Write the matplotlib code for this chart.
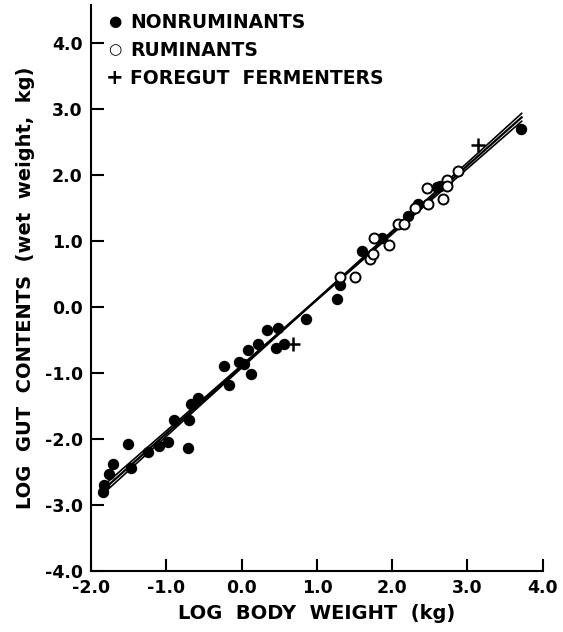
import matplotlib
matplotlib.use('Agg')
import matplotlib.pyplot as plt

# nonruminants (filled)
non_x = [-1.84, -1.83, -1.77, -1.71, -1.51, -1.47, -1.25, -1.10, -0.98, -0.72,
         -0.90, -0.70, -0.68, -0.58, -0.17, -0.24, -0.04, 0.03, 0.12, 0.08,
         0.21, 0.33, 0.48, 0.45, 0.56, 0.85, 1.27, 1.30, 1.60, 1.87,
         2.21, 2.34, 2.60, 2.64, 3.71]
non_y = [-2.80, -2.69, -2.53, -2.38, -2.08, -2.44, -2.20, -2.11, -2.05, -2.14,
         -1.71, -1.71, -1.47, -1.38, -1.19, -0.90, -0.84, -0.86, -1.02, -0.65,
         -0.57, -0.35, -0.32, -0.62, -0.56, -0.18, 0.12, 0.33, 0.84, 1.04,
         1.38, 1.56, 1.82, 1.83, 2.69]

# ruminants (open)
rum_x = [1.31, 1.50, 1.70, 1.74, 1.76, 1.96, 2.08, 2.15, 2.30, 2.48,
         2.46, 2.68, 2.73, 2.73, 2.87]
rum_y = [0.45, 0.45, 0.72, 0.80, 1.05, 0.93, 1.26, 1.26, 1.49, 1.55,
         1.80, 1.64, 1.92, 1.83, 2.05]

# foregut fermenters
fg_x = [0.68, 3.14]
fg_y = [-0.57, 2.45]

# regression line and its band
line_x = [-1.87, -0.5, 0.9, 2.3, 3.72]
line_mid = [-2.80, -1.41, 0.01, 1.43, 2.87]
line_half = [0.06, 0.03, 0.005, 0.03, 0.06]

fig = plt.figure(figsize=(5.63, 6.32), dpi=100)
ax = fig.add_axes([0.162, 0.0965, 0.802, 0.8955])

lo = [m - h for m, h in zip(line_mid, line_half)]
hi = [m + h for m, h in zip(line_mid, line_half)]
ax.plot(line_x, line_mid, color='black', lw=1.6, zorder=2)
ax.plot(line_x, lo, color='black', lw=1.2, zorder=2)
ax.plot(line_x, hi, color='black', lw=1.2, zorder=2)

ax.plot(non_x, non_y, 'o', color='black', ms=7.2, zorder=3)
ax.plot(rum_x, rum_y, 'o', mfc='white', mec='black', mew=1.4, ms=7.2, zorder=4)
ax.plot(fg_x, fg_y, '+', color='black', ms=10, mew=1.8, zorder=4)

ax.set_xlim(-2.0, 4.0)
ax.set_ylim(-4.0, 4.57)
ax.set_xticks([-2, -1, 0, 1, 2, 3, 4])
ax.set_yticks([-4, -3, -2, -1, 0, 1, 2, 3, 4])
ax.set_xticklabels(['-2.0', '-1.0', '0.0', '1.0', '2.0', '3.0', '4.0'])
ax.set_yticklabels(['-4.0', '-3.0', '-2.0', '-1.0', '0.0', '1.0', '2.0', '3.0', '4.0'])
for s in ['top', 'right']:
    ax.spines[s].set_visible(False)
for s in ['left', 'bottom']:
    ax.spines[s].set_linewidth(1.5)
ax.tick_params(direction='in', length=9, width=1.5, labelsize=12.5, pad=6)
for lab in ax.get_xticklabels() + ax.get_yticklabels():
    lab.set_fontweight('bold')

ax.set_xlabel('LOG  BODY  WEIGHT  (kg)', fontsize=14, fontweight='bold', labelpad=5)
ax.set_ylabel('LOG  GUT  CONTENTS  (wet  weight,  kg)', fontsize=14, fontweight='bold', labelpad=7)

# legend drawn as text rows
rows = [1 - 22 / 632, 1 - 50 / 632, 1 - 78 / 632]
fig.text(115 / 563, rows[0], '●', ha='center', va='center', fontsize=11)
fig.text(130 / 563, rows[0], 'NONRUMINANTS', ha='left', va='center', fontsize=13.5, fontweight='bold')
fig.text(115 / 563, rows[1], '○', ha='center', va='center', fontsize=11)
fig.text(130 / 563, rows[1], 'RUMINANTS', ha='left', va='center', fontsize=13.5, fontweight='bold')
fig.text(115 / 563, rows[2], '+', ha='center', va='center', fontsize=15, fontweight='bold')
fig.text(130 / 563, rows[2], 'FOREGUT  FERMENTERS', ha='left', va='center', fontsize=13.5, fontweight='bold')

fig.savefig('out.png', dpi=100)
